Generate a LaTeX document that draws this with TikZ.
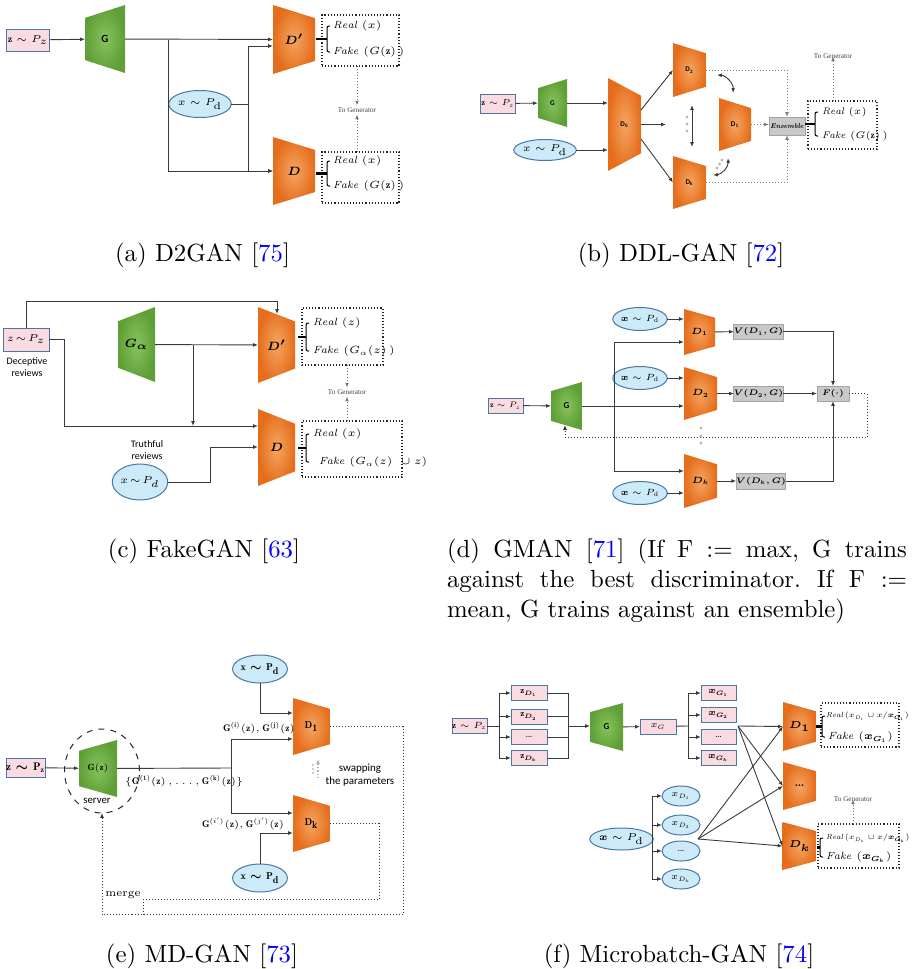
\RequirePackage{fix-cm}
\documentclass[tikz,border=0pt]{standalone}
\usepackage{fontspec}
\usepackage{bm}
\usepackage{xcolor}
\usepackage{tikz}
\usetikzlibrary{shapes.geometric,arrows.meta,calc}
\setsansfont{Carlito}
\newfontfamily\timesfont{Liberation Serif}
\newfontfamily\capfont{lmroman10-regular}[Extension=.otf]
\frenchspacing

\definecolor{pzfill}{HTML}{FADBE2}
\definecolor{pzline}{HTML}{4A76A8}
\definecolor{pdfill}{HTML}{CCEAF8}
\definecolor{genin}{HTML}{86C35C}
\definecolor{genout}{HTML}{5F9F36}
\definecolor{discin}{HTML}{F5A562}
\definecolor{discout}{HTML}{E56D1B}
\definecolor{vfill}{HTML}{C9C9C9}
\definecolor{vline}{HTML}{A3A3A3}
\definecolor{citeblue}{HTML}{0000FF}
\definecolor{linegray}{HTML}{3A3A3A}

\newcommand{\rfbrace}[4]{%
  \draw[line width=0.5pt,rounded corners=1pt] (#1+3,#2) -- (#1,#2) -- (#1,#3) -- (#1+3,#3);
  \draw[line width=1.1pt] (#4,{(#2+#3)/2}) -- (#1,{(#2+#3)/2});}

\begin{document}
\begin{tikzpicture}[x=0.5pt,y=-0.5pt,
  >={Latex[length=2.4pt,width=1.9pt]},
  every node/.style={inner sep=0pt,outer sep=0pt},
  sz/.style 2 args={minimum width=#1*0.5pt,minimum height=#2*0.5pt},
  link/.style={draw=linegray,line width=0.45pt},
  feed/.style={draw=black!80,line width=0.5pt,densely dotted},
  pz/.style={draw=pzline,fill=pzfill,line width=0.5pt,font=\fontsize{5}{6}\selectfont},
  pd/.style={ellipse,draw=pzline,fill=pdfill,line width=0.5pt,font=\fontsize{5}{6}\selectfont},
  gen/.style={font=\sffamily\bfseries\fontsize{5.5}{6}\selectfont,
    path picture={\shade[inner color=genin,outer color=genout]
      (path picture bounding box.north east) -- (path picture bounding box.south east)
      -- ($(path picture bounding box.south west)!0.19!(path picture bounding box.north west)$)
      -- ($(path picture bounding box.north west)!0.19!(path picture bounding box.south west)$) -- cycle;}},
  disc/.style={font=\fontsize{6}{7}\selectfont,
    path picture={\shade[inner color=discin,outer color=discout]
      (path picture bounding box.north west) -- (path picture bounding box.south west)
      -- ($(path picture bounding box.south east)!0.19!(path picture bounding box.north east)$)
      -- ($(path picture bounding box.north east)!0.19!(path picture bounding box.south east)$) -- cycle;}},
  outbox/.style={draw=black!85,densely dotted,line width=0.55pt},
  vbox/.style={draw=vline,fill=vfill,line width=0.5pt,font=\fontsize{4}{5}\selectfont},
  rf/.style={anchor=west,font=\fontsize{5.2}{6}\selectfont},
  togen/.style={font=\timesfont\fontsize{3.6}{4}\selectfont,text=black!75},
  note/.style={font=\sffamily\fontsize{5}{6}\selectfont,align=center},
  captxt/.style={anchor=base,font=\capfont\fontsize{12.4}{15}\selectfont}
]
\useasboundingbox (0,0) rectangle (914,969);

% (a)
\node[pz,sz={43}{22}] (za) at (28,40) {$\mathbf{z}\sim P_z$};
\node[gen,sz={40}{68}] (ga) at (105,39) {G};
\node[disc,sz={42}{69}] (dpa) at (294,39.5) {$\bm{D'}$};
\node[disc,sz={42}{68}] (da) at (294,171) {$\bm{D}$};
\node[pd,sz={46}{27}] (xa) at (200,104) {$x\sim P_{\mathrm{d}}$};
\node[outbox,sz={77}{51}] (oa1) at (360.5,40.5) {};
\node[outbox,sz={77}{51}] (oa2) at (360.5,177.5) {};
\node[rf] (ra1) at (333,26) {$\mathit{Real}\ (x)$};
\node[rf] (fa1) at (333,52) {$\mathit{Fake}\ (G(\mathbf{z})\,)$};
\node[rf] (ra2) at (333,161) {$\mathit{Real}\ (x)$};
\node[rf] (fa2) at (333,186) {$\mathit{Fake}\ (G(\mathbf{z})\,)$};
\node[togen] (tga) at (357,110) {To Generator};
\rfbrace{327}{26}{52}{316}
\rfbrace{327}{161}{186}{316}
\coordinate (ja) at (168,40);
\coordinate (jxa) at (248,104);
\draw[link,->] (za) -- (ga);
\draw[link,->] (ga) -- (dpa);
\draw[link,->] (ja) |- (da);
\draw[link] (xa) -- (jxa);
\draw[link,->] (jxa) |- (dpa.west |- 0,46);
\draw[link,->] (jxa) |- (da);
\draw[feed,draw=black!55,->] (oa1.south -| tga) -- ([yshift=1pt]tga.north);
\draw[feed,draw=black!55,->] (oa2.north -| tga) -- ([yshift=-1pt]tga.south);

% (b)
\node[pz,sz={35}{19},font=\fontsize{4.3}{5}\selectfont] (zb) at (498,103.5) {$\mathbf{z}\sim P_z$};
\node[gen,sz={29}{48},font=\sffamily\bfseries\fontsize{3.6}{4}\selectfont] (gb) at (552.5,103) {G};
\node[pd,sz={47}{21}] (xb) at (545,150) {$x\sim P_{\mathrm{d}}$};
\node[disc,sz={33}{93},font=\sffamily\bfseries\fontsize{3.6}{4}\selectfont] (d0b) at (624.5,124.5) {D\textsubscript{0}};
\node[disc,sz={33}{54},font=\sffamily\bfseries\fontsize{3.6}{4}\selectfont] (d2b) at (689.5,70) {D\textsubscript{2}};
\node[disc,sz={33}{53},font=\sffamily\bfseries\fontsize{3.6}{4}\selectfont] (dkb) at (689.5,182.5) {D\textsubscript{k}};
\node[disc,sz={32}{53},font=\sffamily\bfseries\fontsize{3.6}{4}\selectfont] (d1b) at (735,124.5) {D\textsubscript{1}};
\node[vbox,sz={36}{18},font=\bfseries\itshape\fontsize{3.5}{4}\selectfont] (ens) at (787,126) {Ensemble};
\node[outbox,sz={69}{48}] (ob) at (842.5,125) {};
\node[rf,font=\fontsize{4.8}{6}\selectfont] (rb) at (822,112) {$\mathit{Real}\ (x)$};
\node[rf,font=\fontsize{4.8}{6}\selectfont] (fb) at (822,136) {$\mathit{Fake}\ (G(\mathbf{z})\,)$};
\node[togen] (tgb) at (833,56) {To Generator};
\rfbrace{815}{112}{136}{805}
\coordinate (d0m) at (666,124.5);
\coordinate (vb1) at (692,105);
\coordinate (vb2) at (692,147);
\coordinate (cb1) at (717,75);
\coordinate (cb2) at (733,93);
\coordinate (cb3) at (713,175);
\coordinate (cb4) at (728,158);
\draw[link,->] (zb) -- (gb);
\draw[link,->] (gb) -- (d0b.west |- gb);
\draw[link,->] (xb) -- (d0b.west |- xb);
\draw[link,->] (d0b.east |- 0,110) -- (d2b.west);
\draw[link,->] (d0b.east) -- (d0m);
\draw[link,->] (d0b.east |- 0,139) -- (dkb.west);
\draw[link,<->] (vb1) -- (vb2);
\draw[link,<->] (cb1) to[bend left=45] (cb2);
\draw[link,<->] (cb3) to[bend right=45] (cb4);
\foreach \y in {117,124,131} \fill[gray!55] (687,\y) circle (0.8pt);
\fill[gray!55] (717,168) circle (0.8pt) (719.5,164) circle (0.8pt) (722,160) circle (0.8pt);
\draw[feed,draw=black!50,->] (d2b.east) -| (ens.north);
\draw[feed,draw=black!50,->] (dkb.east) -| (ens.south);
\draw[feed,draw=black!50,->] (d1b.east) -- (ens.west |- d1b.east);
\draw[feed,draw=black!55,->] (ob.north -| tgb) -- ([yshift=1pt]tgb.south);

% (c)
\node[pz,sz={46}{23}] (zc) at (26,339.5) {$z\!\sim\!P_z$};
\node[note] (decc) at (27,367) {Deceptive\\reviews};
\node[gen,sz={37}{75},font=\fontsize{6}{7}\selectfont] (gc) at (136.5,344.5) {$\bm{G_\alpha}$};
\node[disc,sz={37}{76}] (dpc) at (276.5,345) {$\bm{D'}$};
\node[disc,sz={37}{77}] (dc) at (276.5,447.5) {$\bm{D}$};
\node[outbox,sz={81}{57}] (oc1) at (342.5,336.5) {};
\node[outbox,sz={100}{56}] (oc2) at (352,449) {};
\node[rf] (rc1) at (313,323) {$\mathit{Real}\ (z)$};
\node[rf] (fc1) at (313,351) {$\mathit{Fake}\ (G_\alpha(z)\,)$};
\node[rf] (rc2) at (313,434) {$\mathit{Real}\ (x)$};
\node[rf] (fc2) at (319,462) {$\mathit{Fake}\ (G_\alpha(z)\ \cup z)$};
\node[togen] (tgc) at (347,392) {To Generator};
\node[pd,sz={46}{36}] (xc) at (140,482) {$x\!\sim\!P_d$};
\node[note] (truc) at (147,450) {Truthful\\reviews};
\rfbrace{306}{323}{351}{298}
\rfbrace{306}{434}{462}{298}
\coordinate (tcin) at (277,314);
\coordinate (jc1) at (193,344.5);
\coordinate (jc2) at (193,426);
\coordinate (jc3) at (64,426);
\coordinate (jc4) at (210,447);
\draw[link,->] (zc.north) -- (zc.north |- 0,301) -| (tcin);
\draw[link,->] (gc) -- (dpc);
\draw[link,->] (jc1) -- (jc2);
\draw[link,->] (zc.east) -| (jc3) -- (dc.west |- jc3);
\draw[link,->] (xc.east) -| (jc4) -- (dc.west |- jc4);
\draw[feed,draw=black!55,->] (oc1.south -| tgc) -- ([yshift=1pt]tgc.north);
\draw[feed,draw=black!55,->] (oc2.north -| tgc) -- ([yshift=-1pt]tgc.south);

% (d)
\node[pz,sz={35}{15},font=\fontsize{4}{5}\selectfont] (zd) at (505.5,405.5) {$\mathbf{z}\sim P_z$};
\node[gen,sz={31}{48},font=\sffamily\bfseries\fontsize{4.5}{5}\selectfont] (gd) at (566.5,406) {G};
\node[disc,sz={31}{46},font=\fontsize{4.5}{5}\selectfont] (d1d) at (699.5,332) {$\bm{D_1}$};
\node[disc,sz={33}{53},font=\fontsize{4.5}{5}\selectfont] (d2d) at (700.5,393.5) {$\bm{D_2}$};
\node[disc,sz={33}{54},font=\fontsize{4.5}{5}\selectfont] (dkd) at (700.5,481) {$\bm{D_k}$};
\node[pd,sz={35}{23},font=\fontsize{4.5}{5}\selectfont] (xd1) at (640,319) {$\bm{x}\sim P_{\mathrm{d}}$};
\node[pd,sz={35}{23},font=\fontsize{4.5}{5}\selectfont] (xd2) at (640,378) {$\bm{x}\sim P_{\mathrm{d}}$};
\node[pd,sz={35}{23},font=\fontsize{4.5}{5}\selectfont] (xdk) at (640,493) {$\bm{x}\sim P_{\mathrm{d}}$};
\node[vbox,sz={43}{15}] (v1) at (758.5,331.5) {$\bm{V(D_1,G)}$};
\node[vbox,sz={43}{15}] (v2) at (758.5,393.5) {$\bm{V(D_2,G)}$};
\node[vbox,sz={48}{16}] (vk) at (761,481) {$\bm{V(D_k,G)}$};
\node[vbox,sz={32}{15}] (fd) at (833,393.5) {$\bm{F(\cdot)}$};
\coordinate (jd) at (614,406);
\coordinate (fbd) at (867,437);
\coordinate (gdin) at (565,425);
\draw[link,->] (zd) -- (gd);
\draw[link,->] (gd) -- (d2d.west |- gd);
\draw[link,->] (jd) |- (d1d.west |- 0,342);
\draw[link,->] (jd) |- (dkd.west |- 0,471);
\draw[link,->] (xd1) -- (d1d.west |- xd1);
\draw[link,->] (xd2) -- (d2d.west |- xd2);
\draw[link,->] (xdk) -- (dkd.west |- xdk);
\draw[link,->] (d1d) -- (v1);
\draw[link,->] (d2d) -- (v2);
\draw[link,->] (dkd) -- (vk);
\draw[link,->] (v1) -| (fd);
\draw[link,->] (v2) -- (fd);
\draw[link,->] (vk) -| (fd);
\draw[feed,->] (fd.east) -| (fbd) -| (gdin);
\foreach \y in {428,436,443} \fill[gray!55] (701,\y) circle (0.8pt);

% (e)
\node[pz,sz={39}{19},font=\fontsize{5.5}{6}\selectfont] (ze) at (25.5,767.5) {$\mathbf{z}\bm{\sim}\mathbf{P_z}$};
\node[draw=black!85,dashed,ellipse,line width=0.5pt,sz={75}{84}] (serv) at (102,771) {};
\node[gen,sz={38}{57},font=\fontsize{4.5}{5}\selectfont] (ge) at (98,768.5) {$\mathbf{G(z)}$};
\node[note,font=\sffamily\fontsize{5.4}{6}\selectfont] (servl) at (97,801) {server};
\node[disc,sz={37}{57},font=\fontsize{5}{6}\selectfont] (d1e) at (311.5,726.5) {$\mathbf{D_1}$};
\node[disc,sz={37}{57},font=\fontsize{5}{6}\selectfont] (dke) at (311.5,823.5) {$\mathbf{D_k}$};
\node[pd,sz={44}{28}] (xe1) at (260,669) {$\mathbf{x}\bm{\sim}\mathbf{P_d}$};
\node[pd,sz={44}{28}] (xe2) at (260,878) {$\mathbf{x}\bm{\sim}\mathbf{P_d}$};
\node[font=\fontsize{4.8}{6}\selectfont] (gall) at (184,781) {$\{\mathbf{G^{(1)}(z)}\,,\dots,\mathbf{G^{(k)}(z)}\}$};
\node[font=\fontsize{4.8}{6}\selectfont] (gij) at (259,728) {$\mathbf{G^{(i)}(z)},\mathbf{G^{(j)}(z)}$};
\node[font=\fontsize{4.8}{6}\selectfont] (gij2) at (243,824) {$\mathbf{G}^{(i')}\mathbf{(z)},\mathbf{G}^{(j')}\mathbf{(z)}$};
\node[note,font=\sffamily\fontsize{5.5}{6.5}\selectfont] (swap) at (360,775) {swapping\\the parameters};
\node[font=\fontsize{5.5}{6}\selectfont] (merge) at (123,895) {merge};
\coordinate (je) at (231,768);
\coordinate (swt) at (318,759);
\coordinate (swb) at (318,778);
\coordinate (fe1) at (403,914);
\coordinate (fe2) at (379,899);
\coordinate (fe3) at (143,914);
\draw[link,->] (ze) -- (ge);
\draw[link] (ge) -- (je);
\draw[link,->] (je) |- (d1e.west |- 0,739);
\draw[link,->] (je) |- (dke.west |- 0,813);
\draw[link,->] (xe1) |- (d1e.west |- 0,713);
\draw[link,->] (xe2) |- (dke.west |- 0,833);
\draw[gray!60,densely dotted,line width=0.6pt,->] (swb) -- (swt);
\foreach \y in {765,769,773} \fill[gray!55] (313,\y) circle (0.6pt);
\draw[feed,->] (d1e.east) -| (fe1) -| (serv.south);
\draw[feed] (dke.east) -| (fe2) -| (fe3);

% (f)
\node[pz,sz={35}{15},font=\fontsize{4.5}{5}\selectfont] (zf) at (469.5,726) {$\mathbf{z}\sim P_z$};
\node[pz,sz={36}{15},font=\fontsize{4.5}{5}\selectfont] (zd1) at (529,693) {$\mathbf{z}_{\bm{D_1}}$};
\node[pz,sz={36}{15},font=\fontsize{4.5}{5}\selectfont] (zd2) at (529,716.5) {$\mathbf{z}_{\bm{D_2}}$};
\node[pz,sz={36}{15},font=\fontsize{4.5}{5}\selectfont] (zd3) at (529,737) {\dots};
\node[pz,sz={36}{15},font=\fontsize{4.5}{5}\selectfont] (zd4) at (529,758) {$\mathbf{z}_{\bm{D_k}}$};
\node[gen,sz={33}{48},font=\sffamily\bfseries\fontsize{4.5}{5}\selectfont] (gf) at (606.5,727) {G};
\node[pz,sz={36}{15},font=\fontsize{4.5}{5}\selectfont] (xg) at (658,726.5) {$x_G$};
\node[pz,sz={35}{15},font=\fontsize{4.5}{5}\selectfont] (xg1) at (718.5,693) {$\bm{x_{G_1}}$};
\node[pz,sz={35}{15},font=\fontsize{4.5}{5}\selectfont] (xg2) at (718.5,715) {$\bm{x_{G_2}}$};
\node[pz,sz={35}{15},font=\fontsize{4.5}{5}\selectfont] (xg3) at (718.5,737) {\dots};
\node[pz,sz={35}{15},font=\fontsize{4.5}{5}\selectfont] (xg4) at (718.5,758) {$\bm{x_{G_k}}$};
\node[disc,sz={33}{49},font=\fontsize{5}{6}\selectfont] (d1f) at (799.5,726.5) {$\bm{D_1}$};
\node[disc,sz={33}{48},font=\bfseries\fontsize{5}{6}\selectfont] (dmf) at (799.5,786) {\dots};
\node[disc,sz={34}{48},font=\fontsize{5}{6}\selectfont] (dkf) at (799.5,846) {$\bm{D_k}$};
\node[outbox,sz={78}{44}] (of1) at (860,725) {};
\node[outbox,sz={81}{44}] (of2) at (858.5,846) {};
\node[rf,font=\fontsize{3.7}{4.5}\selectfont] (rf1) at (826,716) {$\mathit{Real}\,(x_{D_1}\cup x/\bm{x_{G_1}})$};
\node[rf] (ff1) at (828,737) {$\mathit{Fake}\ (\bm{x_{G_1}})$};
\node[rf,font=\fontsize{3.7}{4.5}\selectfont] (rf2) at (826,838) {$\mathit{Real}\,(x_{D_k}\cup x/\bm{x_{G_k}})$};
\node[rf] (ff2) at (826,857) {$\mathit{Fake}\ (\bm{x_{G_k}})$};
\node[togen] (tgf) at (853,799) {To Generator};
\rfbrace{822}{716}{737}{816}
\rfbrace{820}{838}{857}{817}
\node[pd,sz={37}{22}] (xf) at (621.5,839) {$\bm{x}\sim P_{\mathrm{d}}$};
\node[pd,sz={38}{20},font=\fontsize{4.5}{5}\selectfont] (xdd1) at (681,796) {$x_{D_1}$};
\node[pd,sz={38}{20},font=\fontsize{4.5}{5}\selectfont] (xdd2) at (681,825) {$x_{D_2}$};
\node[pd,sz={38}{20},font=\fontsize{4.5}{5}\selectfont] (xdd3) at (681,851) {\dots};
\node[pd,sz={38}{20},font=\fontsize{4.5}{5}\selectfont] (xdd4) at (681,879) {$x_{D_k}$};
\coordinate (jf1) at (499,726);
\coordinate (jf2) at (568,726);
\coordinate (jf3) at (688,726);
\coordinate (jf4) at (652,839);
\coordinate (ca) at (738,726);
\coordinate (cb) at (698,839);
\draw[link] (zf) -- (jf1);
\foreach \n in {1,...,4} \draw[link,->] (jf1) |- (zd\n.west);
\foreach \n in {1,...,4} \draw[link] (zd\n.east) -| (jf2);
\draw[link,->] (jf2) -- (gf.west |- jf2);
\draw[link,->] (gf) -- (xg);
\draw[link] (xg) -- (jf3);
\foreach \n in {1,...,4} \draw[link,->] (jf3) |- (xg\n.west);
\draw[link] (xf) -- (jf4);
\foreach \n in {1,...,4} \draw[link,->] (jf4) |- (xdd\n.west);
\foreach \t in {d1f,dmf,dkf} {
  \draw[link,->] (ca) -- (\t.west);
  \draw[link,->] (cb) -- (\t.west);
}
\draw[feed,draw=black!55,->] (of2.north -| tgf) -- ([yshift=1pt]tgf.south);

% captions
\node[captxt] (capa) at (202.5,261) {(a) D2GAN [\textcolor{citeblue}{75}]};
\node[captxt] (capb) at (681,261) {(b) DDL-GAN [\textcolor{citeblue}{72}]};
\node[captxt] (capc) at (204,557) {(c) FakeGAN [\textcolor{citeblue}{63}]};
\node[captxt,anchor=base west] (capd1) at (447,557) {\makebox[230pt][s]{(d) GMAN [\textcolor{citeblue}{71}] (If F := max, G trains}};
\node[captxt,anchor=base west] (capd2) at (447,587) {\makebox[230pt][s]{against the best discriminator. If F :=}};
\node[captxt,anchor=base west] (capd3) at (447,617) {mean, G trains against an ensemble)};
\node[captxt] (cape) at (202,962) {(e) MD-GAN [\textcolor{citeblue}{73}]};
\node[captxt] (capf) at (679,962) {(f) Microbatch-GAN [\textcolor{citeblue}{74}]};
\end{tikzpicture}
\end{document}
